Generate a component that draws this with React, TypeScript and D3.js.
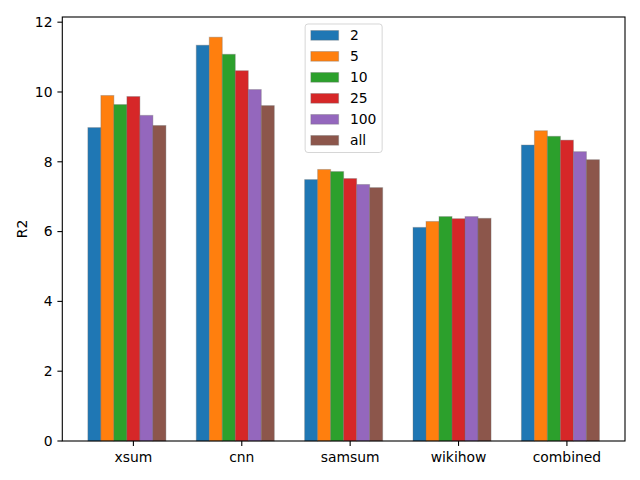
import React from 'react';
import * as d3 from 'd3';

// chart data
const categories = ['xsum', 'cnn', 'samsum', 'wikihow', 'combined'];
const seriesNames = ['2', '5', '10', '25', '100', 'all'];
const s2 = [8.98, 11.34, 7.49, 6.12, 8.48];
const s5 = [9.9, 11.57, 7.78, 6.29, 8.89];
const s10 = [9.64, 11.08, 7.72, 6.43, 8.73];
const s25 = [9.87, 10.61, 7.52, 6.37, 8.62];
const s100 = [9.33, 10.07, 7.35, 6.43, 8.29];
const sAll = [9.04, 9.61, 7.26, 6.38, 8.06];
const yTicks = [0, 2, 4, 6, 8, 10, 12];
const yLabel = 'R2';

const seriesValues = [s2, s5, s10, s25, s100, sAll];
const colors = ['#1f77b4', '#ff7f0e', '#2ca02c', '#d62728', '#9467bd', '#8c564b'];

const W = 640;
const H = 480;
const margin = { top: 17, right: 15, bottom: 39, left: 62.3 };
const barW = 0.12;
const font = '"DejaVu Sans", sans-serif';
const fs = 13.9;

export default function App() {
  const innerW = W - margin.left - margin.right;
  const innerH = H - margin.top - margin.bottom;

  // matplotlib-like autoscale with 5% margins on x
  const dMin = -3.5 * barW;
  const dMax = categories.length - 1 + 2.5 * barW;
  const pad = (dMax - dMin) * 0.05;
  const x = d3.scaleLinear().domain([dMin - pad, dMax + pad]).range([0, innerW]);

  const yMax = (d3.max(seriesValues.flat()) as number) * 1.05;
  const y = d3.scaleLinear().domain([0, yMax]).range([innerH, 0]);

  const bw = x(barW) - x(0);

  // legend geometry
  const legW = 77;
  const legH = 128.5;
  const legX = innerW / 2 - legW / 2;
  const legY = 7;

  return (
    <svg width={W} height={H} style={{ position: 'absolute', left: 0, top: 0, background: '#fff' }} fontFamily={font}>
      <g transform={`translate(${margin.left},${margin.top})`}>
        {seriesValues.map((vals, j) => (
          <g key={seriesNames[j]}>
            {vals.map((v, i) => {
              const cx = i + (j - 3) * barW;
              return (
                <rect
                  key={i}
                  x={x(cx - barW / 2)}
                  y={y(v)}
                  width={bw}
                  height={innerH - y(v)}
                  fill={colors[j]}
                  stroke="rgba(110,110,110,0.35)"
                  strokeWidth={1}
                />
              );
            })}
          </g>
        ))}

        {/* axes frame */}
        <rect x={0} y={0} width={innerW} height={innerH} fill="none" stroke="#000" strokeWidth={1.1} />

        {/* x ticks */}
        {categories.map((c, i) => (
          <g key={c} transform={`translate(${x(i)},${innerH})`}>
            <line y1={0} y2={4.9} stroke="#000" strokeWidth={1.1} />
            <text y={9.8} dy="0.8em" textAnchor="middle" fontSize={fs} fill="#000">{c}</text>
          </g>
        ))}

        {/* y ticks */}
        {yTicks.map(t => (
          <g key={t} transform={`translate(0,${y(t)})`}>
            <line x1={0} x2={-4.9} stroke="#000" strokeWidth={1.1} />
            <text x={-9.8} dy="0.35em" textAnchor="end" fontSize={fs} fill="#000">{t}</text>
          </g>
        ))}

        <text
          transform={`translate(${21.7 - margin.left},${innerH / 2}) rotate(-90)`}
          textAnchor="middle"
          dy="0.35em"
          fontSize={fs}
          fill="#000"
        >{yLabel}</text>

        {/* legend */}
        <g transform={`translate(${legX},${legY})`}>
          <rect width={legW} height={legH} rx={2.8} fill="rgba(255,255,255,0.8)" stroke="rgba(204,204,204,0.8)" strokeWidth={1} />
          {seriesNames.map((name, j) => (
            <g key={name} transform={`translate(0,${6 + j * 21})`}>
              <rect x={5.7} y={0.5} width={27.8} height={9.7} fill={colors[j]} stroke="rgba(110,110,110,0.35)" strokeWidth={1} />
              <text x={44.8} y={5.4} dy="0.35em" fontSize={fs} fill="#000">{name}</text>
            </g>
          ))}
        </g>
      </g>
    </svg>
  );
}
